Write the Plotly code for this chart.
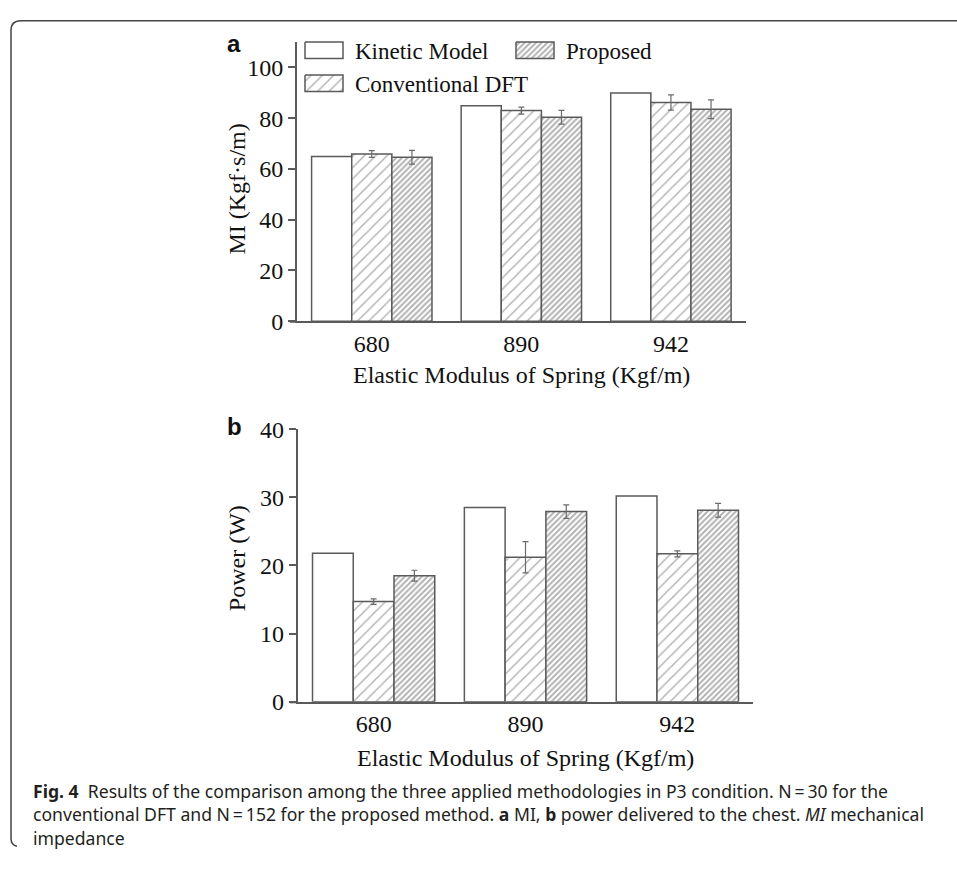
import plotly.graph_objects as go

# ---------------- data ----------------
categories = ["680", "890", "942"]
series_names = ["Kinetic Model", "Conventional DFT", "Proposed"]

mi_kinetic = [64.9, 84.9, 89.9]
mi_conventional = [65.9, 83.0, 86.2]
mi_conventional_err = [1.3, 1.4, 3.0]
mi_proposed = [64.6, 80.4, 83.5]
mi_proposed_err = [2.7, 2.7, 3.7]

power_kinetic = [21.8, 28.5, 30.2]
power_conventional = [14.7, 21.2, 21.7]
power_conventional_err = [0.4, 2.3, 0.45]
power_proposed = [18.5, 27.9, 28.1]
power_proposed_err = [0.8, 1.0, 1.0]

mi_ticks = [0, 20, 40, 60, 80, 100]
power_ticks = [0, 10, 20, 30, 40]

legend_order = ["Kinetic Model", "Proposed", "Conventional DFT"]

caption_lines = [
    "<b>Fig. 4</b>  Results of the comparison among the three applied methodologies in P3 condition. N\u2009=\u200930 for the",
    "conventional DFT and N\u2009=\u2009152 for the proposed method. <b>a</b> MI, <b>b</b> power delivered to the chest. <i>MI</i> mechanical",
    "impedance",
]

# ---------------- styling ----------------
W, H = 957, 869
EDGE = "#5a5a5a"
HATCH = "#656565"
TEXT = "#111111"
SERIF = "Liberation Serif, Times New Roman, serif"
SANS = "Liberation Sans, Arial, sans-serif"

patterns = {
    "Kinetic Model": dict(shape=""),
    "Conventional DFT": dict(shape="/", size=8, solidity=0.18, fgcolor=HATCH, bgcolor="white"),
    "Proposed": dict(shape="/", size=4, solidity=0.5, fgcolor=HATCH, bgcolor="white"),
}

fig = go.Figure()


def add_panel(vals_list, errs_list, xa, ya):
    for name, vals, errs in zip(series_names, vals_list, errs_list):
        err = dict(visible=False)
        if errs is not None:
            err = dict(type="data", array=errs, visible=True, color="#6a6a6a",
                       thickness=1.2, width=3)
        fig.add_trace(go.Bar(
            x=categories, y=vals, name=name, xaxis=xa, yaxis=ya,
            marker=dict(color="white", line=dict(color=EDGE, width=1.5),
                        pattern=patterns[name]),
            error_y=err, showlegend=False, hoverinfo="x+y+name",
        ))


add_panel([mi_kinetic, mi_conventional, mi_proposed],
          [None, mi_conventional_err, mi_proposed_err], "x", "y")
add_panel([power_kinetic, power_conventional, power_proposed],
          [None, power_conventional_err, power_proposed_err], "x2", "y2")

# ---- custom legend (pixel overlay axes x3/y3) ----
legend_pos = {"Kinetic Model": (305, 30), "Proposed": (516, 30), "Conventional DFT": (305, 64)}
SW, SH = 38, 17
annotations = []
for name in legend_order:
    sx, sy = legend_pos[name]
    pat = patterns[name]
    tr = dict(x=[sx, sx + SW, sx + SW, sx, sx], y=[sy, sy, sy + SH, sy + SH, sy],
              xaxis="x3", yaxis="y3", mode="lines", fill="toself", fillcolor="white",
              line=dict(color=EDGE, width=1.5), showlegend=False, hoverinfo="skip")
    if pat["shape"]:
        tr["fillpattern"] = dict(shape=pat["shape"], size=pat["size"],
                                 solidity=pat["solidity"], fgcolor=HATCH, bgcolor="white")
    fig.add_trace(go.Scatter(**tr))
    annotations.append(dict(x=sx + SW + 10, y=sy + SH / 2 + 1, xref="x3", yref="y3",
                            text=name, showarrow=False, xanchor="left", yanchor="middle",
                            font=dict(family=SERIF, size=23, color=TEXT)))

# axis titles and panel labels
annotations += [
    dict(x=237, y=182, xref="x3", yref="y3", text="MI (Kgf\u00b7s/m)", textangle=-90,
         showarrow=False, font=dict(family=SERIF, size=24, color=TEXT)),
    dict(x=521, y=373, xref="x3", yref="y3", text="Elastic Modulus of Spring (Kgf/m)",
         showarrow=False, font=dict(family=SERIF, size=24, color=TEXT)),
    dict(x=237, y=562, xref="x3", yref="y3", text="Power (W)", textangle=-90,
         showarrow=False, font=dict(family=SERIF, size=24, color=TEXT)),
    dict(x=525, y=768, xref="x3", yref="y3", text="Elastic Modulus of Spring (Kgf/m)",
         showarrow=False, font=dict(family=SERIF, size=24, color=TEXT)),
    dict(x=225, y=31, xref="x3", yref="y3", text="<b>a</b>", xanchor="left",
         showarrow=False, font=dict(family=SANS, size=24, color=TEXT)),
    dict(x=225, y=426, xref="x3", yref="y3", text="<b>b</b>", xanchor="left",
         showarrow=False, font=dict(family=SANS, size=24, color=TEXT)),
]
for i, line in enumerate(caption_lines):
    annotations.append(dict(x=31, y=802 + 24 * i, xref="x3", yref="y3", text=line,
                            xanchor="left", yanchor="middle", showarrow=False,
                            font=dict(family="Noto Sans", size=17.6, color="#231f20")))

shapes = [
    # frame
    dict(type="path", xref="x3", yref="y3",
         path="M 957 8 L 21 8 Q 11 8 11 18 L 11 851 Q 11 858 17 859",
         line=dict(color="#444444", width=1.5)),
    # x-axis line stubs left of the y axes
    dict(type="line", xref="x3", yref="y3", x0=290, x1=297, y0=318.4, y1=318.4,
         line=dict(color=EDGE, width=1.8)),
    dict(type="line", xref="x3", yref="y3", x0=290, x1=297.7, y0=710.7, y1=710.7,
         line=dict(color=EDGE, width=1.8)),
]

xcommon = dict(type="category", range=[-0.5, 2.5], showline=True, linecolor=EDGE,
               linewidth=1.8, ticks="", showgrid=False, zeroline=False,
               tickfont=dict(family=SERIF, size=24, color=TEXT), fixedrange=True)
ycommon = dict(showline=True, linecolor=EDGE, linewidth=1.8, ticks="outside", ticklen=7,
               tickwidth=1.5, tickcolor=EDGE, showgrid=False, zeroline=False,
               tickfont=dict(family=SERIF, size=24, color=TEXT), fixedrange=True)

fig.update_layout(
    width=W, height=H, margin=dict(l=0, r=0, t=0, b=0),
    paper_bgcolor="white", plot_bgcolor="rgba(0,0,0,0)",
    barmode="group", bargap=0.195, bargroupgap=0,
    showlegend=False,
    xaxis=dict(domain=[297 / W, 745.7 / W], anchor="y", **xcommon),
    yaxis=dict(domain=[1 - 317.7 / H, 1 - 30 / H], anchor="x", range=[0, 110],
               tickvals=mi_ticks, **ycommon),
    xaxis2=dict(domain=[297.7 / W, 753.3 / W], anchor="y2", **xcommon),
    yaxis2=dict(domain=[1 - 710 / H, 1 - 429 / H], anchor="x2", range=[0, 40],
                tickvals=power_ticks, **ycommon),
    xaxis3=dict(domain=[0, 1], anchor="y3", range=[0, W], visible=False, fixedrange=True),
    yaxis3=dict(domain=[0, 1], anchor="x3", range=[H, 0], visible=False, fixedrange=True),
    annotations=annotations,
    shapes=shapes,
)

fig.write_html("out.html")
